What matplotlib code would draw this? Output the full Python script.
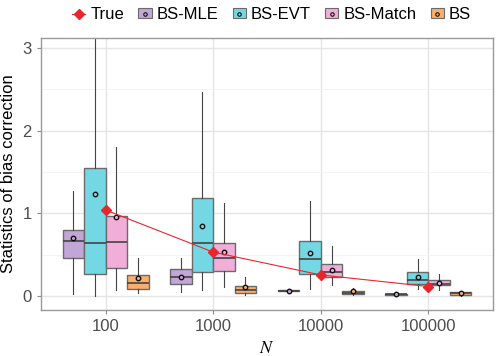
import matplotlib
matplotlib.use('Agg')
import matplotlib.pyplot as plt
from matplotlib.patches import Patch
from matplotlib.lines import Line2D
from matplotlib.legend_handler import HandlerTuple

plt.rcParams['font.family'] = ['Liberation Sans', 'DejaVu Sans']
plt.rcParams['mathtext.fontset'] = 'stix'

# - Data
n_labels = ['100', '1000', '10000', '100000']
methods = ['BS-MLE', 'BS-EVT', 'BS-Match', 'BS']
colors = ['#C3A6D8', '#74D8E4', '#F0AED8', '#F9AE6B']
true_values = [1.04, 0.53, 0.254, 0.114]

# box stats per method: one entry per N -> (whislo, q1, med, q3, whishi, mean)
mle_stats = [(0.02, 0.456, 0.665, 0.80, 1.27, 0.70),
             (0.053, 0.15, 0.225, 0.32, 0.46, 0.23),
             (0.05, 0.055, 0.063, 0.075, 0.085, 0.065),
             (0.012, 0.015, 0.02, 0.025, 0.03, 0.02)]
evt_stats = [(0.0, 0.26, 0.637, 1.55, 3.5, 1.23),
             (0.07, 0.287, 0.637, 1.18, 2.47, 0.85),
             (0.089, 0.262, 0.447, 0.67, 1.15, 0.516),
             (0.08, 0.15, 0.198, 0.287, 0.45, 0.226)]
match_stats = [(0.073, 0.335, 0.65, 0.967, 1.80, 0.955),
               (0.105, 0.30, 0.456, 0.645, 1.12, 0.53),
               (0.133, 0.23, 0.29, 0.39, 0.60, 0.314),
               (0.07, 0.138, 0.15, 0.19, 0.262, 0.16)]
bs_stats = [(0.03, 0.08, 0.16, 0.25, 0.46, 0.22),
            (0.012, 0.036, 0.069, 0.12, 0.235, 0.105),
            (0.01, 0.02, 0.04, 0.06, 0.10, 0.056),
            (0.005, 0.012, 0.03, 0.045, 0.055, 0.036)]
all_stats = [mle_stats, evt_stats, match_stats, bs_stats]

# - Figure
fig = plt.figure(figsize=(4.98, 3.56), dpi=100)
ax = fig.add_axes([0.0823, 0.1292, 0.9077, 0.7641])

xs = range(1, len(n_labels) + 1)
offsets = [-0.3, -0.1, 0.1, 0.3]
box_w = 0.2

for stats, col, off in zip(all_stats, colors, offsets):
    bxp_stats = []
    for lo, q1, med, q3, hi, mean in stats:
        bxp_stats.append(dict(whislo=lo, q1=q1, med=med, q3=q3, whishi=hi,
                              mean=mean, fliers=[]))
    ax.bxp(bxp_stats, positions=[x + off for x in xs], widths=box_w,
           patch_artist=True, showmeans=True, showcaps=False,
           boxprops=dict(facecolor=col, edgecolor='#6B6B6B', linewidth=1.0),
           medianprops=dict(color='#444444', linewidth=1.2),
           whiskerprops=dict(color='#444444', linewidth=0.8),
           meanprops=dict(marker='o', markersize=3.2, markerfacecolor=col,
                          markeredgecolor='#111111', markeredgewidth=1.0),
           manage_ticks=False, zorder=2)

# - True line
ax.plot(list(xs), true_values, color='#E8262B', lw=0.8, marker='D',
        markersize=5.5, zorder=4)

# - Axes properties
ax.set_xlim(0.4, 4.6)
ax.set_ylim(-0.17, 3.12)
ax.set_xticks(list(xs))
ax.set_xticklabels(n_labels)
ax.set_yticks([0, 1, 2, 3])
ax.set_yticks([0.5, 1.5, 2.5], minor=True)
ax.tick_params(axis='both', which='major', labelsize=12, labelcolor='#4D4D4D',
               color='#8C8C8C', length=3)
ax.tick_params(axis='y', which='minor', length=0)
ax.grid(which='major', color='#E5E5E5', lw=1.0)
ax.grid(which='minor', axis='y', color='#F2F2F2', lw=0.6)
ax.set_axisbelow(True)
for border in ('top', 'bottom', 'left', 'right'):
    ax.spines[border].set_edgecolor('#999999')
    ax.spines[border].set_linewidth(1.0)

ax.set_xlabel('$N$', fontsize=13, labelpad=4)
ax.set_ylabel('Statistics of bias correction', fontsize=12, labelpad=5)

# - Legend
handles = [Line2D([], [], color='#E8262B', lw=0.8, marker='D', markersize=5)]
for col in colors:
    handles.append((Line2D([], [], color='#555555', lw=0.6),
                    Patch(facecolor=col, edgecolor='#6B6B6B', lw=0.8),
                    Line2D([], [], ls='', marker='o', markersize=2.5,
                           markerfacecolor=col, markeredgecolor='#111111',
                           markeredgewidth=0.8)))
labels = ['True'] + methods
ax.legend(handles, labels, loc='lower center', bbox_to_anchor=(0.51, 1.0),
          ncol=5, frameon=False, fontsize=12, handlelength=0.8,
          handleheight=0.5, handletextpad=0.3, columnspacing=0.85,
          handler_map={tuple: HandlerTuple(ndivide=1)}, borderaxespad=0.55)

plt.savefig('out.png', dpi=100)
